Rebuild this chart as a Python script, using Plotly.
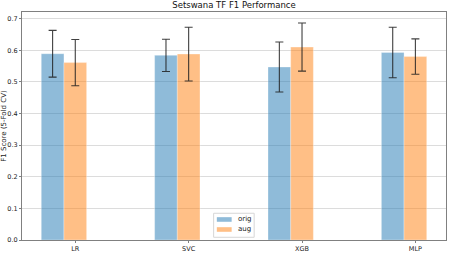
import plotly.graph_objects as go

models = ["LR", "SVC", "XGB", "MLP"]
orig_mean = [0.589, 0.584, 0.547, 0.593]
orig_std = [0.074, 0.051, 0.079, 0.080]
aug_mean = [0.561, 0.588, 0.610, 0.580]
aug_std = [0.073, 0.085, 0.076, 0.056]
y_ticks = [0.0, 0.1, 0.2, 0.3, 0.4, 0.5, 0.6, 0.7]
series_names = ["orig", "aug"]
series_colors = ["rgba(31,119,180,0.5)", "rgba(255,127,14,0.5)"]

W = 0.2
idx = list(range(len(models)))
x_orig = [i for i in idx]
x_aug = [i + W for i in idx]

FONT = "DejaVu Sans"
FIG_W, FIG_H = 450, 253
ML, MR, MT, MB = 22, 4.3, 12.3, 13
PW, PH = FIG_W - ML - MR, FIG_H - MT - MB

def px(x):
    return (x - ML) / PW

def py(y):
    return (FIG_H - MB - y) / PH

err_style = dict(type="data", thickness=1.1, width=4, color="rgba(30,30,30,0.85)")

fig = go.Figure()
fig.add_trace(go.Bar(
    x=x_orig, y=orig_mean, width=W, name=series_names[0],
    marker=dict(color=series_colors[0], line=dict(color="rgba(255,255,255,0.6)", width=0.5)),
    error_y=dict(array=orig_std, **err_style),
))
fig.add_trace(go.Bar(
    x=x_aug, y=aug_mean, width=W, name=series_names[1],
    marker=dict(color=series_colors[1], line=dict(color="rgba(255,255,255,0.6)", width=0.5)),
    error_y=dict(array=aug_std, **err_style),
))

# legend box (matplotlib style, lower center)
fig.add_shape(type="rect", xref="paper", yref="paper",
              x0=px(213.5), x1=px(254), y0=py(237.3), y1=py(213.3),
              fillcolor="rgba(255,255,255,0.85)", line=dict(color="#d6d6d6", width=1), layer="above")
row_y = [219.5, 229.5]
for name, col, ry in zip(series_names, series_colors, row_y):
    fig.add_shape(type="rect", xref="paper", yref="paper",
                  x0=px(216.7), x1=px(231.5), y0=py(ry + 2.3), y1=py(ry - 2.3),
                  fillcolor=col, line=dict(width=0), layer="above")
    fig.add_annotation(xref="paper", yref="paper", x=px(235.5), y=py(ry),
                       xanchor="left", yanchor="middle", text=name, showarrow=False,
                       font=dict(family=FONT, size=7, color="#222"))

fig.update_layout(
    width=FIG_W, height=FIG_H,
    barmode="overlay",
    paper_bgcolor="white", plot_bgcolor="white",
    font=dict(family=FONT, size=7, color="#222"),
    margin=dict(l=ML, r=MR, t=MT, b=MB, autoexpand=False),
    title=dict(text="Setswana TF F1 Performance", x=0.5, xref="paper", xanchor="center",
               y=1, yref="container", yanchor="top", pad=dict(t=2),
               font=dict(family=FONT, size=8.5, color="#111")),
    showlegend=False,
)
fig.update_xaxes(
    range=[-0.27, 3.47],
    tickmode="array", tickvals=x_aug, ticktext=models,
    showgrid=False, zeroline=False,
    showline=True, mirror=True, linecolor="#808080", linewidth=1,
    ticks="outside", ticklen=2, tickcolor="#808080",
    tickfont=dict(size=6.5, color="#222"),
)
fig.update_yaxes(
    range=[0, 0.721],
    tickmode="array", tickvals=y_ticks, ticktext=[f"{v:.1f}" for v in y_ticks],
    showgrid=True, gridcolor="#dcdcdc", gridwidth=1, zeroline=False,
    showline=True, mirror=True, linecolor="#808080", linewidth=1,
    ticks="outside", ticklen=2, tickcolor="#808080",
    tickfont=dict(size=6.5, color="#222"),
    title=dict(text="F1 Score (5-Fold CV)", font=dict(size=7, color="#222"), standoff=4),
)

fig.write_html("out.html", config={"displayModeBar": False},
               post_script="document.body.style.margin='0';document.body.style.overflow='hidden';")
